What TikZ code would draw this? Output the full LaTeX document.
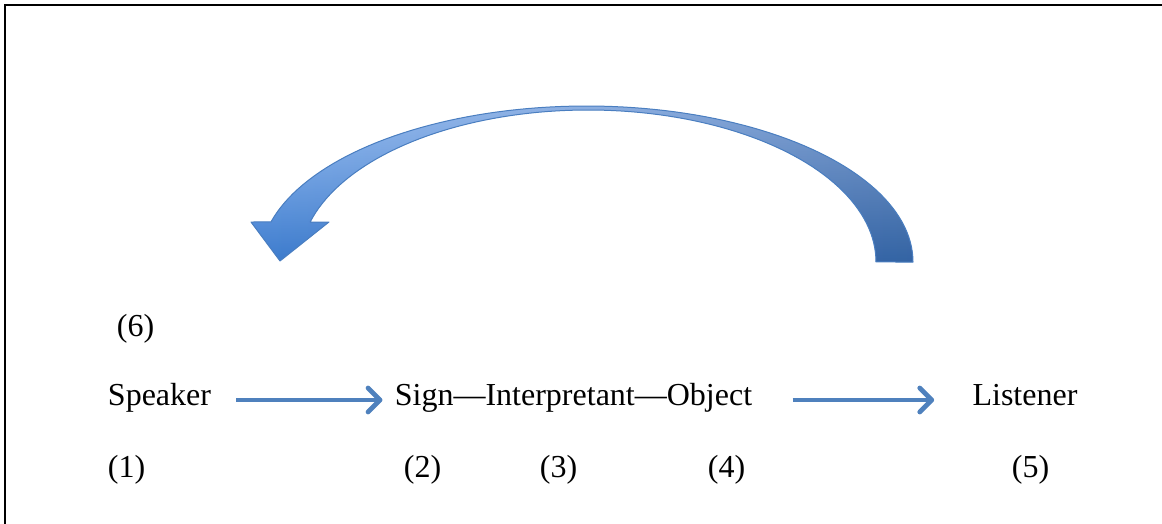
\documentclass[tikz,border=0pt]{standalone}
\usepackage{fontspec}
\setmainfont{Liberation Serif}
\usetikzlibrary{arrows.meta, positioning, fadings}

\definecolor{flowblue}{HTML}{4F81BD}
\definecolor{bendtopL}{HTML}{A0C6FA}
\definecolor{bendtopR}{HTML}{7F9DCC}
\definecolor{bendbotL}{HTML}{3B7BCE}
\definecolor{bendbotR}{HTML}{3262A2}
\definecolor{bendline}{HTML}{4A7EC0}

% outline of the big return arrow (pixel units)
\def\bendpath{(913,262)
  -- plot[domain=0:165.14, samples=90] ({586.5+326.5*cos(\x)}, {262-156*sin(\x)})
  -- (251,222) -- (280,261) -- (329,222) -- (310,222)
  -- plot[domain=164.74:0, samples=90] ({588+288*cos(\x)}, {262-152*sin(\x)})
  -- cycle}

\begin{document}
\begin{tikzpicture}[x=0.5pt, y=-0.5pt,
    lbl/.style={inner sep=0pt, anchor=base, font=\fontsize{16}{19}\selectfont},
    flow/.style={-{Straight Barb[length=6pt, width=12pt, round]},
                 line width=2.4pt, flowblue},
    bendedge/.style={draw=bendline, line width=0.5pt, line join=round}
  ]
  \useasboundingbox (0,0) rectangle (1162,524);

  % frame, top and left only
  \draw[line width=1pt] (5,524) -- (5,5) -- (1162,5);

  % main row
  \node[lbl] (speaker) at (159.5,405) {Speaker};
  \node[lbl] (triad) at (573.5,405) {Sign—Interpretant—Object};
  \node[lbl] (listener) at (1025,405) {Listener};

  % step numbers
  \node[lbl] (n6) at (135.5,336) {(6)};
  \node[lbl] (n1) at (126.5,477) {(1)};
  \node[lbl] (n2) at (422.5,477) {(2)};
  \node[lbl] (n3) at (558.5,477) {(3)};
  \node[lbl] (n4) at (726.5,477) {(4)};
  \node[lbl] (n5) at (1030.5,477) {(5)};

  % straight arrows
  \draw[flow] ([xshift=12.5pt, yshift=2.5pt]speaker.base east)
    -- ([xshift=-6pt, yshift=2.5pt]triad.base west);
  \draw[flow] ([xshift=20pt, yshift=2.5pt]triad.base east)
    -- ([xshift=-19pt, yshift=2.5pt]listener.base west);

  % curved return arrow
  \begin{scope}
    \clip \bendpath;
    \shade[left color=bendtopL, right color=bendtopR] (240,100) rectangle (920,265);
    \shade[left color=bendbotL, right color=bendbotR, path fading=north]
      (240,100) rectangle (920,265);
  \end{scope}
  \draw[bendedge] \bendpath;

\end{tikzpicture}
\end{document}
